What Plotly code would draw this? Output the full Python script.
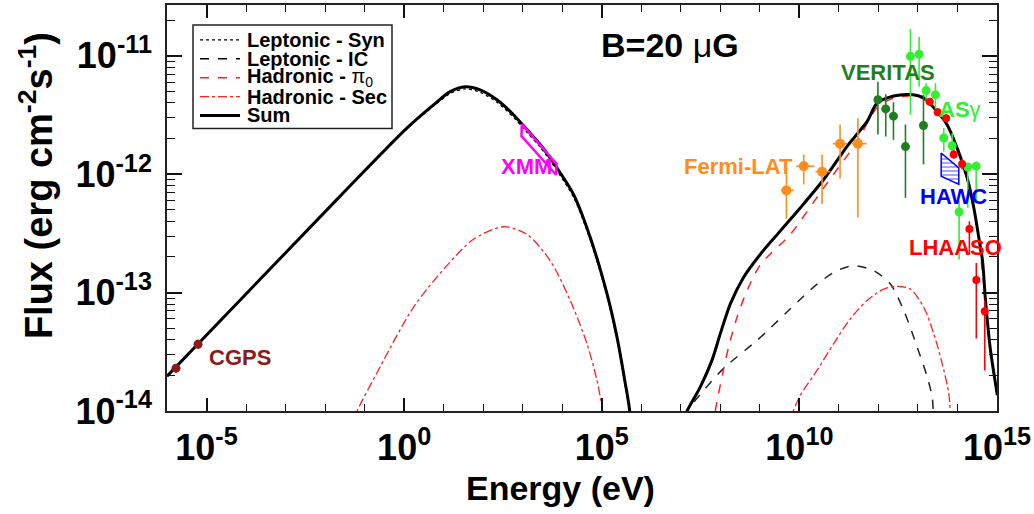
import plotly.graph_objects as go

# ---------------- model curves (E in eV, flux in erg cm^-2 s^-1) ----------------
sum_lo_E = [1e-6, 0.024, 1.17, 5.52, 14.6, 35, 84, 222, 585, 1277, 2775, 7345, 1.93e4, 5.12e4,
            1.36e5, 2.43e5, 3.94e5, 5.06e5, 5.6e5]
sum_lo_F = [1.97e-14, 6.53e-13, 2.45e-12, 3.85e-12, 4.98e-12, 5.48e-12, 5.15e-12, 4.25e-12, 3.18e-12,
            2.38e-12, 1.78e-12, 1.13e-12, 6.75e-13, 2.92e-13, 9.75e-14, 4.21e-14, 1.71e-14, 1.02e-14, 6.0e-15]
syn_F = [1.97e-14, 6.5e-13, 2.42e-12, 3.75e-12, 4.8e-12, 5.25e-12, 4.92e-12, 4.05e-12, 3.02e-12,
         2.26e-12, 1.69e-12, 1.07e-12, 6.4e-13, 2.78e-13, 9.3e-14, 4.0e-14, 1.63e-14, 9.8e-15, 5.7e-15]

sum_hi_E = [1.12e7, 1.44e7, 3.12e7, 6.17e7, 1e8, 1.79e8, 3.89e8, 1.03e9, 3.3e9, 1.06e10, 4.12e10,
            1.61e11, 5.18e11, 9.27e11, 2.44e12, 6.46e12, 1.40e13, 3.06e13, 5.48e13, 9.82e13, 1.76e14,
            2.59e14, 3.46e14, 4.3e14, 5.12e14, 6.84e14, 9.16e14, 1.02e15]
sum_hi_F = [7.94e-15, 1.0e-14, 1.6e-14, 2.69e-14, 4.5e-14, 8.04e-14, 1.35e-13, 2.11e-13, 3.32e-13,
            5.21e-13, 9.02e-13, 1.72e-12, 2.79e-12, 3.99e-12, 4.57e-12, 4.7e-12, 4.4e-12, 3.38e-12,
            2.62e-12, 1.66e-12, 9.31e-13, 5.21e-13, 2.92e-13, 1.86e-13, 8.57e-14, 3.26e-14, 1.71e-14, 1.36e-14]

ic_E = [1.12e7, 1.44e7, 2.57e7, 1.21e8, 8.49e8, 5.92e9, 2.81e10, 8.99e10, 2.37e11, 7.6e11, 2.01e12,
        4.38e12, 9.55e12, 1.71e13, 2.29e13, 2.45e13, 2.82e13]
ic_F = [9.1e-15, 1.0e-14, 1.28e-14, 2.29e-14, 3.95e-14, 7.3e-14, 1.18e-13, 1.53e-13, 1.69e-13,
        1.53e-13, 1.18e-13, 7.06e-14, 3.47e-14, 1.94e-14, 1.32e-14, 1.0e-14, 6.3e-15]

pi0_E = [6.61e7, 7.46e7, 1.1e8, 1.62e8, 2.65e8, 4.74e8, 1.03e9, 5.92e9, 4.12e10, 2.89e11, 9.27e11,
         2.44e12, 6.46e12, 1.40e13, 3.06e13, 5.48e13, 9.82e13, 1.76e14, 2.59e14, 3.46e14, 5.12e14,
         6.84e14, 9.16e14, 1.02e15]
pi0_F = [7.08e-15, 1.0e-14, 1.94e-14, 3.47e-14, 6.19e-14, 1.04e-13, 1.72e-13, 3.11e-13, 7.67e-13,
         1.89e-12, 3.66e-12, 4.4e-12, 4.57e-12, 4.31e-12, 3.32e-12, 2.56e-12, 1.62e-12, 9.08e-13,
         5.08e-13, 2.84e-13, 8.32e-14, 3.16e-14, 1.66e-14, 1.32e-14]

sec_lo_E = [0.05, 0.0635, 0.247, 1.72, 12.05, 56.8, 326, 1277, 4966, 1.6e4, 4.22e4, 7.55e4, 1.01e5, 1.15e5]
sec_lo_F = [7.9e-15, 9.86e-15, 2.36e-14, 7.52e-14, 1.69e-13, 2.82e-13, 3.6e-13, 3.11e-13, 1.86e-13,
            8.57e-14, 3.71e-14, 1.82e-14, 1.09e-14, 7.9e-15]
sec_hi_E = [5.62e9, 7.18e9, 1.06e10, 2.81e10, 7.38e10, 1.95e11, 5.18e11, 1.36e12, 2.97e12, 6.46e12,
            1.40e13, 2.51e13, 4.1e13, 6.03e13, 6.61e13, 7.41e13]
sec_hi_F = [7.9e-15, 1.02e-14, 1.36e-14, 2.21e-14, 3.71e-14, 6.01e-14, 8.57e-14, 1.07e-13, 1.13e-13,
            1.07e-13, 7.52e-14, 4.5e-14, 2.52e-14, 1.41e-14, 1.0e-14, 7.1e-15]

# ---------------- data ----------------
cgps_E = [1.69e-6, 6.1e-6]
cgps_F = [2.3e-14, 3.66e-14]
cgps_Fhi = [2.5e-14, 4.0e-14]
cgps_Flo = [2.1e-14, 3.35e-14]

xmm_E = [9.5e2, 9.3e2, 7.0e3, 7.2e3, 9.5e2]
xmm_F = [2.65e-12, 2.1e-12, 9.9e-13, 1.22e-12, 2.65e-12]

fermi_E = [4.7e9, 1.29e10, 3.76e10, 1.07e11, 3.02e11]
fermi_Elo = [3.44e9, 8.4e9, 2.54e10, 7.08e10, 2.14e11]
fermi_Ehi = [7.18e9, 2.4e10, 6.1e10, 1.62e11, 5.0e11]
fermi_F = [7.3e-13, 1.17e-12, 1.05e-12, 1.81e-12, 1.81e-12]
fermi_Fhi = [1.03e-12, 1.47e-12, 1.47e-12, 2.63e-12, 2.97e-12]
fermi_Flo = [4.2e-13, 8.2e-13, 5.6e-13, 9.2e-13, 4.3e-13]

ver_E = [9.7e11, 1.53e12, 2.4e12, 4.83e12, 1.38e13]
ver_F = [4.25e-12, 3.56e-12, 3.09e-12, 1.71e-12, 2.58e-12]
ver_Fhi = [6.05e-12, 4.74e-12, 4.05e-12, 2.63e-12, 4.68e-12]
ver_Flo = [2.16e-12, 2.08e-12, 1.95e-12, 6.3e-13, 1.21e-12]

asg_E = [6.46e12, 1.07e13, 1.61e13, 2.77e13, 4.5e13, 7.35e13, 1.1e14, 1.82e14, 2.97e14]
asg_F = [9.9e-12, 1.03e-11, 5.08e-12, 4.68e-12, 2.02e-12, 1.74e-12, 4.8e-13, 1.15e-12, 1.17e-12]
asg_Fhi = [1.69e-11, 1.45e-11, 5.85e-12, 5.85e-12, 2.45e-12, 2.22e-12, 5.9e-13, 1.24e-12, 1.27e-12]
asg_Flo = [3.18e-12, 5.5e-12, 4.0e-12, 3.5e-12, 1.56e-12, 1.47e-12, 1.9e-13, 5.2e-13, 5.9e-13]

lha_E = [1.99e13, 3.16e13, 5.17e13, 8.05e13, 1.31e14, 2.0e14, 3.0e14, 4.9e14]
lha_F = [4.1e-12, 3.34e-12, 2.97e-12, 1.47e-12, 1.22e-12, 3.45e-13, 1.28e-13, 6.97e-14]
lha_Fhi = [4.4e-12, 3.6e-12, 3.2e-12, 1.6e-12, 1.35e-12, 4.0e-13, 1.78e-13, 8.6e-14]
lha_Flo = [3.8e-12, 3.1e-12, 2.75e-12, 1.35e-12, 1.1e-12, 2.1e-13, 4.1e-14, 2.2e-14]

hawc_E = [3.87e13, 1.08e14, 1.08e14, 3.87e13, 3.87e13]
hawc_F = [1.51e-12, 1.13e-12, 8.2e-13, 9.6e-13, 1.51e-12]

x_tick_vals = [1e-5, 1e0, 1e5, 1e10, 1e15]
x_tick_text = ["10<sup>-5</sup>", "10<sup>0</sup>", "10<sup>5</sup>", "10<sup>10</sup>", "10<sup>15</sup>"]
y_tick_vals = [1e-14, 1e-13, 1e-12, 1e-11]
y_tick_text = ["10<sup>-14</sup>", "10<sup>-13</sup>", "10<sup>-12</sup>", "10<sup>-11</sup>"]

FONT = "Liberation Sans, Arial, Helvetica, sans-serif"
C_FERMI = "#ff8c1a"
C_VER = "#1f7f1f"
C_ASG = "#33ee33"
C_LHA = "#ff0000"
C_HAWC = "#0000ff"
C_XMM = "#ff00ff"
C_CGPS = "#8b1a1a"

fig = go.Figure()

def line(x, y, color, width, dash):
    fig.add_trace(go.Scatter(x=x, y=y, mode="lines", line=dict(color=color, width=width, dash=dash,
                                                                shape="spline", smoothing=0.8),
                             showlegend=False, hoverinfo="skip"))

line(sum_lo_E, syn_F, "black", 1.3, "dot")
line(ic_E, ic_F, "#222222", 1.5, "dash")
line(pi0_E, pi0_F, "#ff2020", 1.5, "dash")
line(sec_lo_E, sec_lo_F, "#ff2020", 1.3, "dashdot")
line(sec_hi_E, sec_hi_F, "#ff2020", 1.3, "dashdot")
line(sum_lo_E, sum_lo_F, "black", 3, "solid")
line(sum_hi_E, sum_hi_F, "black", 3, "solid")

# HAWC butterfly
fig.add_trace(go.Scatter(x=hawc_E, y=hawc_F, mode="lines", fill="toself",
                         fillcolor="rgba(0,0,0,0)",
                         fillpattern=dict(shape="-", fgcolor=C_HAWC, bgcolor="white", size=4, solidity=0.35),
                         line=dict(color=C_HAWC, width=1.5), showlegend=False, hoverinfo="skip"))
# XMM butterfly (drawn on the overlay axes that carry the minor ticks; same ranges)
fig.add_trace(go.Scatter(x=xmm_E, y=xmm_F, mode="lines", line=dict(color=C_XMM, width=2.5),
                         xaxis="x2", yaxis="y2", showlegend=False, hoverinfo="skip"))

def points(x, y, yhi, ylo, color, size, xlo=None, xhi=None):
    ey = dict(type="data", symmetric=False, array=[h - v for h, v in zip(yhi, y)],
              arrayminus=[v - l for v, l in zip(y, ylo)], color=color, thickness=1.6, width=0)
    ex = None
    if xlo is not None:
        ex = dict(type="data", symmetric=False, array=[h - v for h, v in zip(xhi, x)],
                  arrayminus=[v - l for v, l in zip(x, xlo)], color=color, thickness=1.6, width=0)
    fig.add_trace(go.Scatter(x=x, y=y, mode="markers", marker=dict(color=color, size=size, symbol="circle"),
                             error_y=ey, error_x=ex, showlegend=False, hoverinfo="skip"))

points(cgps_E, cgps_F, cgps_Fhi, cgps_Flo, C_CGPS, 9)
points(fermi_E, fermi_F, fermi_Fhi, fermi_Flo, C_FERMI, 10, fermi_Elo, fermi_Ehi)
points(ver_E, ver_F, ver_Fhi, ver_Flo, C_VER, 9)
points(asg_E, asg_F, asg_Fhi, asg_Flo, C_ASG, 9)
points(lha_E, lha_F, lha_Fhi, lha_Flo, C_LHA, 8)

# axes
x_minor = [10.0 ** k for k in range(-6, 16) if k % 5 != 0]
y_minor = [m * 10.0 ** k for k in range(-14, -10) for m in range(2, 10)]
X_RANGE = [-6, 15]
Y_RANGE = [-14, -10.571]

fig.update_layout(
    xaxis=dict(type="log", range=X_RANGE, tickvals=x_tick_vals, ticktext=x_tick_text,
               ticks="inside", ticklen=13, tickwidth=1.8, tickcolor="#111", mirror="allticks",
               showline=True, linecolor="#222", linewidth=1.8, showgrid=False, zeroline=False,
               tickfont=dict(family=FONT, size=36, color="black", weight="bold"),
               ticklabelstandoff=4),
    yaxis=dict(type="log", range=Y_RANGE, tickvals=y_tick_vals, ticktext=y_tick_text,
               ticks="inside", ticklen=15, tickwidth=1.8, tickcolor="#111", mirror="allticks",
               showline=True, linecolor="#222", linewidth=1.8, showgrid=False, zeroline=False,
               tickfont=dict(family=FONT, size=36, color="black", weight="bold"),
               ticklabelstandoff=6),
    xaxis2=dict(type="log", range=X_RANGE, overlaying="x", anchor="y2", side="bottom",
                tickvals=x_minor, ticks="inside", ticklen=7, tickwidth=1.3, tickcolor="#111",
                mirror="allticks", showline=False, showgrid=False, zeroline=False, showticklabels=False),
    yaxis2=dict(type="log", range=Y_RANGE, overlaying="y", anchor="x2", side="left",
                tickvals=y_minor, ticks="inside", ticklen=8, tickwidth=1.3, tickcolor="#111",
                mirror="allticks", showline=False, showgrid=False, zeroline=False, showticklabels=False),
)

L, R, T, B = 167, 37, 3, 103
PW, PH = 1034 - L - R, 514 - T - B

def px(x):
    return (x - L) / PW

def py(y):
    return (514 - B - y) / PH

anns = []
def text(t, x, y, color, size, xanchor="center", angle=0):
    anns.append(dict(text=t, x=px(x), y=py(y), xref="paper", yref="paper", showarrow=False,
                     xanchor=xanchor, yanchor="middle", textangle=angle,
                     font=dict(family=FONT, size=size, color=color)))

text("<b>VERITAS</b>", 888, 71, C_VER, 22)
text("<b>AS</b>γ", 960, 108, C_ASG, 22)
text("<b>Fermi-LAT</b>", 738, 165, C_FERMI, 22)
text("<b>HAWC</b>", 953, 195, C_HAWC, 22)
text("<b>LHAASO</b>", 955, 247, C_LHA, 22)
text("<b>XMM</b>", 526, 165, C_XMM, 22)
text("<b>CGPS</b>", 240, 357, C_CGPS, 22)
text("<b>B=20 </b>μ<b>G</b>", 670, 43, "black", 34)
text("<b>Energy (eV)</b>", 560, 488, "black", 34)
text("<b>Flux (erg cm<sup>-2</sup>s<sup>-1</sup>)</b>", 36, 185, "black", 38, angle=-90)

# legend (drawn)
shapes = [dict(type="rect", xref="paper", yref="paper", x0=px(193), x1=px(392), y0=py(127), y1=py(23),
               line=dict(color="#222", width=1.5), fillcolor="white", layer="above")]
leg_rows = [("<b>Leptonic - Syn</b>", "black", "dot", 1.3),
            ("<b>Leptonic - IC</b>", "black", "dash", 1.5),
            ("<b>Hadronic - </b>π<sub>0</sub>", "#ff2020", "dash", 1.5),
            ("<b>Hadronic - Sec</b>", "#ff2020", "dashdot", 1.3),
            ("<b>Sum</b>", "black", "solid", 3)]
leg_y = [38, 57, 76, 95, 114]
for (lab, col, dash, w), yy in zip(leg_rows, leg_y):
    shapes.append(dict(type="line", xref="paper", yref="paper", x0=px(200), x1=px(240), y0=py(yy), y1=py(yy),
                       line=dict(color=col, width=w, dash=dash), layer="above"))
    text(lab, 245, yy, "black", 20, xanchor="left")

fig.update_layout(width=1034, height=514, autosize=False,
                  margin=dict(l=L, r=R, t=T, b=B, pad=0),
                  plot_bgcolor="white", paper_bgcolor="white",
                  annotations=anns, shapes=shapes, showlegend=False,
                  font=dict(family=FONT, color="black"))

fig.write_html("out.html")
